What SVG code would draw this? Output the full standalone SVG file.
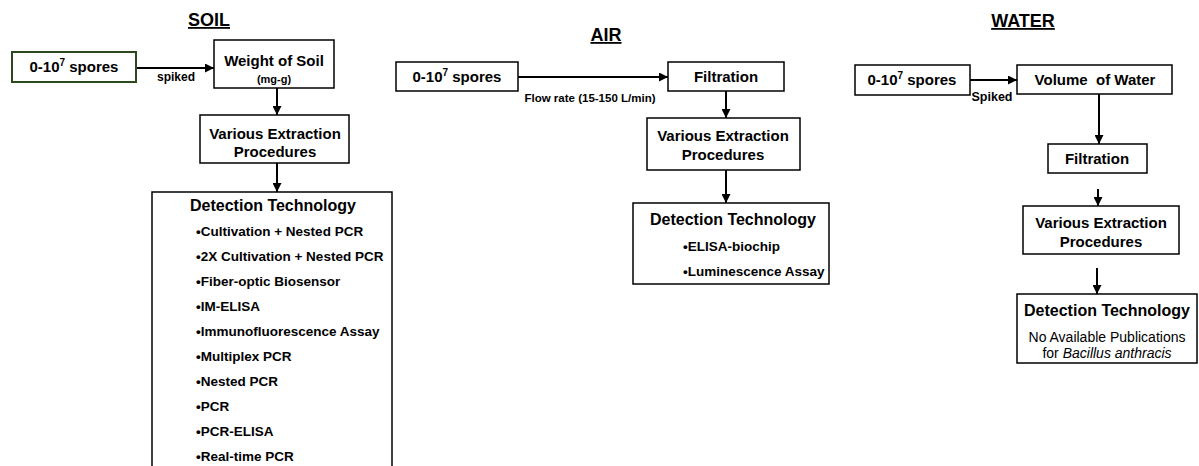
<svg xmlns="http://www.w3.org/2000/svg" width="1199" height="466" viewBox="0 0 1199 466">
<defs>
<marker id="ah" markerUnits="userSpaceOnUse" markerWidth="9" markerHeight="9" refX="9" refY="4.5" orient="auto" viewBox="0 0 9 9">
<path d="M0,0 L9,4.5 L0,9 z" fill="#000"/>
</marker>
<style>
text{font-family:"Liberation Sans",Arial,sans-serif;fill:#000}
.title{font-size:18px;font-weight:bold;text-anchor:middle;text-decoration:underline}
.box{fill:#fff;stroke:#000;stroke-width:1.5}
.green{stroke:#2a4a1e;stroke-width:2}
.bt{font-size:15px;font-weight:bold;text-anchor:middle}
.dt{font-size:16px;font-weight:bold;text-anchor:middle}
.it{font-size:13.5px;font-weight:bold}
.lb{font-size:11.5px;font-weight:bold;text-anchor:middle}
.sm{font-size:11px;font-weight:bold;text-anchor:middle}
.np{font-size:14px;text-anchor:middle}
.sup{font-size:10px}
.con line{stroke:#000;stroke-width:2;marker-end:url(#ah)}
</style>
</defs>
<rect width="1199" height="466" fill="#fff"/>

<text class="title" x="209" y="26">SOIL</text>
<text class="title" x="606" y="41">AIR</text>
<text class="title" x="1023" y="27">WATER</text>

<g id="connectors" class="con">
<line x1="137" y1="68" x2="214" y2="68"/>
<line x1="277" y1="88" x2="277" y2="115"/>
<line x1="277" y1="163" x2="277" y2="192"/>
<line x1="518" y1="77" x2="668" y2="77"/>
<line x1="726" y1="91" x2="726" y2="118"/>
<line x1="726" y1="170" x2="726" y2="203"/>
<line x1="970" y1="80" x2="1017" y2="80"/>
<line x1="1099" y1="94" x2="1099" y2="144"/>
<line x1="1098" y1="189" x2="1098" y2="206"/>
<line x1="1097" y1="268" x2="1097" y2="294"/>
</g>
<g id="edge-labels">
<text class="lb" x="176" y="81" style="font-size:12px">spiked</text>
<text class="lb" x="590" y="102">Flow rate (15-150 L/min)</text>
<text class="lb" x="992" y="101" style="font-size:12.5px">Spiked</text>
</g>

<g id="soil-spores">
<rect class="box green" x="12" y="52" width="124" height="30"/>
<text class="bt" x="74" y="72">0-10<tspan class="sup" dy="-6">7</tspan><tspan dy="6"> spores</tspan></text>
</g>
<g id="soil-weight">
<rect class="box" x="214" y="40" width="120" height="48"/>
<text class="bt" x="274" y="66">Weight of Soil</text>
<text class="sm" x="274" y="83">(mg-g)</text>
</g>
<g id="soil-extraction">
<rect class="box" x="200" y="115" width="149" height="48"/>
<text class="bt" x="275" y="139">Various Extraction</text>
<text class="bt" x="275" y="157">Procedures</text>
</g>
<g id="soil-detection">
<rect class="box" x="152" y="192" width="240" height="280"/>
<text class="dt" x="273" y="211">Detection Technology</text>
<text class="it" x="196" y="236">•Cultivation + Nested PCR</text>
<text class="it" x="196" y="261">•2X Cultivation + Nested PCR</text>
<text class="it" x="196" y="286">•Fiber-optic Biosensor</text>
<text class="it" x="196" y="311">•IM-ELISA</text>
<text class="it" x="196" y="336">•Immunofluorescence Assay</text>
<text class="it" x="196" y="361">•Multiplex PCR</text>
<text class="it" x="196" y="386">•Nested PCR</text>
<text class="it" x="196" y="411">•PCR</text>
<text class="it" x="196" y="436">•PCR-ELISA</text>
<text class="it" x="196" y="461">•Real-time PCR</text>
</g>

<g id="air-spores">
<rect class="box" x="396" y="62" width="122" height="29"/>
<text class="bt" x="457" y="82">0-10<tspan class="sup" dy="-6">7</tspan><tspan dy="6"> spores</tspan></text>
</g>
<g id="air-filtration">
<rect class="box" x="668" y="62" width="116" height="29"/>
<text class="bt" x="726" y="82">Filtration</text>
</g>
<g id="air-extraction">
<rect class="box" x="647" y="118" width="153" height="52"/>
<text class="bt" x="723" y="141">Various Extraction</text>
<text class="bt" x="723" y="160">Procedures</text>
</g>
<g id="air-detection">
<rect class="box" x="633" y="203" width="196" height="81"/>
<text class="dt" x="733" y="225">Detection Technology</text>
<text class="it" x="683" y="251">•ELISA-biochip</text>
<text class="it" x="683" y="276">•Luminescence Assay</text>
</g>

<g id="water-spores">
<rect class="box" x="855" y="65" width="115" height="30"/>
<text class="bt" x="912" y="85">0-10<tspan class="sup" dy="-6">7</tspan><tspan dy="6"> spores</tspan></text>
</g>
<g id="water-volume">
<rect class="box" x="1017" y="65" width="155" height="29"/>
<text class="bt" x="1095" y="85" xml:space="preserve">Volume  of Water</text>
</g>
<g id="water-filtration">
<rect class="box" x="1048" y="144" width="99" height="29"/>
<text class="bt" x="1097" y="164">Filtration</text>
</g>
<g id="water-extraction">
<rect class="box" x="1023" y="206" width="156" height="48"/>
<text class="bt" x="1101" y="228">Various Extraction</text>
<text class="bt" x="1101" y="247">Procedures</text>
</g>
<g id="water-detection">
<rect class="box" x="1017" y="294" width="180" height="69"/>
<text class="dt" x="1107" y="316">Detection Technology</text>
<text class="np" x="1107" y="342">No Available Publications</text>
<text class="np" x="1107" y="358">for <tspan font-style="italic">Bacillus anthracis</tspan></text>
</g>
</svg>
